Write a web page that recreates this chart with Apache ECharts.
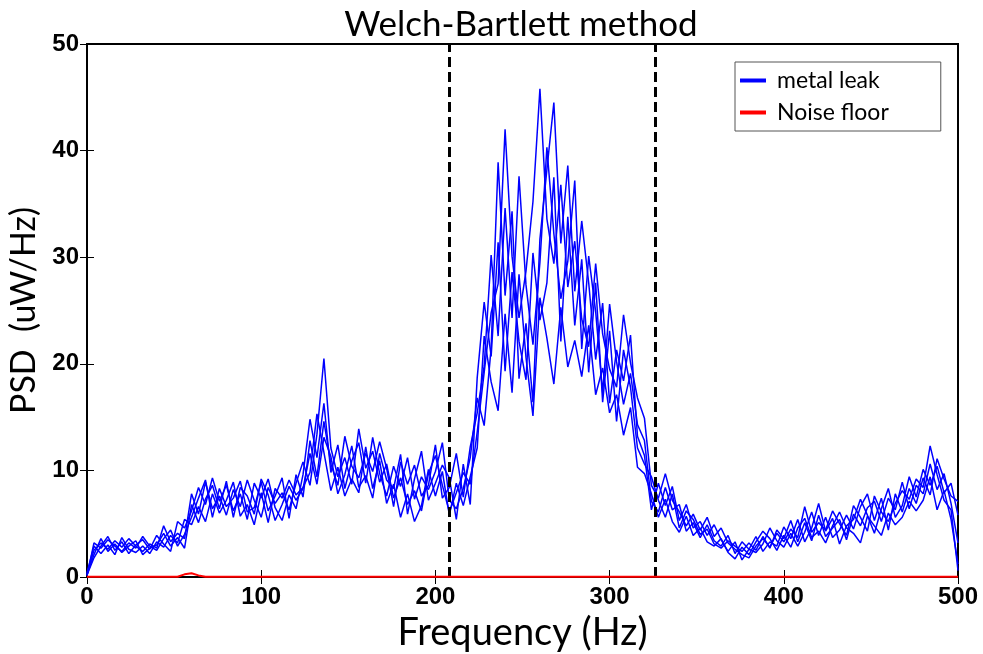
<!DOCTYPE html>
<html lang="en">
<head>
    <meta charset="UTF-8">
    <title>Welch-Bartlett method</title>
    <style>
        html, body { margin: 0; padding: 0; background: #fff; }
    </style>
</head>
<body>
    <div id="app" style="width: 983px;height:654px;"></div>
    <script src="https://cdn.jsdelivr.net/npm/echarts@6/dist/echarts.min.js"></script>
    <script>
        // frequency bins, 4 Hz apart (0 .. 500 Hz)
        const freq = [];
        for (let f = 0; f <= 500; f += 4) freq.push(f);

        const xTicks = [0, 100, 200, 300, 400, 500];
        const yTicks = [0, 10, 20, 30, 40, 50];
        const bandEdges = [208, 326];

        // five PSD estimates of the metal leak, one row per 40 Hz
        const leakA = [
            0.3, 2.5, 3.2, 2.6, 3.4, 2.8, 3.6, 2.9, 2.4, 3.1,
            2.7, 4.8, 3.3, 4.1, 3.6, 7.8, 5.9, 8.9, 6.4, 7.6,
            5.8, 8.2, 6.6, 9.1, 7.2, 5.6, 8.4, 6.9, 7.9, 6.3,
            8.8, 10.8, 8.6, 13.4, 20.5, 12.1, 9.4, 11.2, 8.7, 13.9,
            10.2, 11.8, 8.9, 10.6, 7.4, 9.3, 6.8, 8.1, 6.2, 9.7,
            11.4, 8.6, 6.1, 7.9, 9.8, 8.7, 13.6, 19.2, 24.8, 27.5,
            42.0, 30.1, 24.3, 28.7, 35.2, 45.8, 33.6, 29.4, 36.8, 27.2,
            31.5, 24.2, 21.6, 29.4, 22.8, 19.5, 17.8, 24.6, 20.1, 16.8,
            14.9, 8.6, 7.4, 9.7, 7.2, 6.1, 4.8, 5.9, 4.4, 5.6,
            3.8, 4.6, 3.2, 2.6, 2.1, 1.8, 2.9, 3.6, 2.8, 4.1,
            3.3, 4.5, 3.7, 6.6, 4.2, 5.1, 4.4, 6.2, 5.0, 3.9,
            6.7, 5.6, 4.3, 7.6, 6.1, 5.2, 6.9, 8.1, 7.3, 9.2,
            8.4, 12.3, 9.6, 7.2, 6.3, 0.6
        ];
        const leakB = [
            0.2, 1.8, 2.9, 3.8, 2.5, 3.3, 2.2, 3.0, 3.5, 2.6,
            3.9, 3.1, 2.4, 5.2, 4.6, 6.2, 8.4, 6.8, 9.3, 7.1,
            8.6, 6.2, 7.8, 5.4, 8.8, 7.4, 9.2, 6.5, 5.3, 7.7,
            6.4, 9.6, 14.8, 11.2, 16.3, 9.8, 12.4, 8.3, 10.9, 12.6,
            8.8, 13.1, 9.7, 7.6, 10.4, 8.5, 11.2, 7.3, 9.4, 8.2,
            9.9, 12.6, 7.2, 6.4, 8.3, 11.2, 16.8, 14.2, 21.5, 38.9,
            26.4, 34.3, 18.6, 23.8, 16.4, 31.7, 38.2, 44.5, 31.3, 38.6,
            26.8, 33.4, 27.6, 20.4, 25.7, 16.3, 21.3, 18.4, 22.7, 13.2,
            11.4, 6.3, 8.8, 6.7, 8.5, 5.3, 6.8, 4.6, 5.2, 3.9,
            4.9, 3.5, 2.4, 3.3, 1.6, 2.6, 3.8, 2.4, 3.3, 2.9,
            4.7, 3.6, 5.4, 3.3, 4.6, 6.9, 4.3, 5.5, 3.1, 4.8,
            5.4, 7.3, 5.8, 4.1, 6.4, 8.3, 5.6, 6.7, 9.4, 7.5,
            10.1, 8.6, 10.4, 7.9, 8.8, 5.8
        ];
        const leakC = [
            0.4, 2.9, 2.2, 3.0, 2.1, 3.7, 2.6, 2.3, 2.9, 2.2,
            3.3, 2.8, 3.9, 3.2, 5.4, 4.9, 6.6, 5.2, 7.8, 6.0,
            7.2, 8.9, 5.7, 6.8, 4.9, 7.9, 5.1, 8.3, 7.4, 9.1,
            7.7, 8.4, 9.8, 15.3, 11.7, 8.1, 10.3, 7.6, 9.2, 7.9,
            12.2, 8.3, 10.9, 6.9, 8.7, 5.6, 7.8, 5.2, 6.7, 10.1,
            7.6, 9.9, 5.8, 8.8, 6.7, 9.4, 12.1, 22.6, 18.3, 15.6,
            24.7, 17.3, 28.4, 20.6, 15.1, 26.2, 22.4, 18.1, 25.3, 19.7,
            22.2, 18.8, 23.6, 17.1, 19.6, 15.4, 17.1, 13.3, 15.9, 10.3,
            9.7, 7.8, 5.6, 7.3, 5.2, 4.2, 5.7, 3.9, 4.6, 3.3,
            2.9, 3.6, 2.3, 1.7, 2.8, 2.1, 3.3, 4.3, 3.6, 2.5,
            3.9, 2.8, 4.6, 5.5, 3.7, 4.3, 3.2, 4.8, 6.1, 4.6,
            4.1, 3.2, 5.7, 4.8, 3.9, 6.0, 4.9, 5.6, 7.1, 6.2,
            7.2, 9.4, 6.3, 8.1, 5.4, 1.2
        ];
        const leakD = [
            0.1, 3.2, 2.7, 3.5, 2.9, 2.4, 3.2, 2.7, 3.8, 2.9,
            2.5, 3.6, 4.4, 2.9, 4.0, 5.6, 7.4, 9.1, 5.6, 8.3,
            6.6, 7.4, 9.0, 6.1, 6.5, 8.9, 6.2, 7.6, 9.3, 5.5,
            9.6, 7.5, 12.8, 9.4, 14.6, 10.6, 8.6, 13.2, 10.4, 9.3,
            11.6, 9.9, 12.7, 10.2, 6.6, 10.8, 8.7, 10.5, 7.6, 8.6,
            12.4, 7.4, 8.4, 11.6, 7.5, 12.2, 15.4, 19.8, 30.2, 22.6,
            34.6, 24.3, 37.6, 27.4, 21.8, 29.5, 40.3, 32.2, 26.1, 29.6,
            37.2, 21.4, 30.1, 24.9, 17.3, 25.6, 20.2, 16.2, 19.1, 14.3,
            12.8, 7.1, 6.1, 8.4, 6.3, 6.8, 4.3, 5.1, 3.7, 4.9,
            3.4, 2.9, 3.9, 2.2, 3.3, 2.6, 2.3, 3.1, 4.6, 3.4,
            2.8, 4.1, 2.9, 4.2, 6.1, 3.9, 5.6, 3.7, 4.4, 5.8,
            4.5, 6.6, 7.8, 5.3, 7.4, 4.4, 7.8, 6.1, 8.3, 6.9,
            9.3, 7.7, 11.1, 9.2, 7.6, 7.1
        ];
        const leakE = [
            0.2, 2.1, 3.6, 2.4, 3.1, 2.3, 2.9, 3.4, 2.1, 2.7,
            3.0, 4.1, 2.9, 3.7, 2.7, 6.8, 5.1, 7.3, 8.6, 6.4,
            9.0, 5.6, 8.4, 7.6, 5.9, 9.2, 7.7, 5.3, 6.8, 8.5,
            7.2, 8.3, 11.6, 8.7, 13.1, 11.3, 7.8, 9.6, 12.3, 8.4,
            9.5, 7.4, 11.6, 9.1, 8.3, 11.5, 5.9, 9.2, 11.8, 7.2,
            8.8, 10.5, 9.3, 5.4, 10.6, 6.8, 18.7, 25.8, 20.7, 31.4,
            19.3, 28.6, 22.1, 18.5, 30.4, 24.1, 27.6, 37.5, 22.1, 33.8,
            23.6, 29.8, 19.2, 27.6, 16.4, 23.1, 14.6, 21.3, 17.8, 12.1,
            10.6, 9.4, 7.2, 5.6, 7.8, 4.6, 6.2, 5.4, 4.0, 4.5,
            3.1, 2.7, 3.4, 2.9, 2.4, 3.2, 2.5, 3.8, 2.7, 4.4,
            3.6, 5.3, 3.3, 5.1, 3.4, 5.8, 3.8, 4.6, 5.4, 3.5,
            5.9, 4.8, 6.5, 7.1, 5.2, 7.4, 6.3, 8.9, 6.4, 8.6,
            7.8, 10.6, 8.2, 9.7, 6.9, 3.2
        ];
        const noiseFloor = [
            0.02, 0.02, 0.02, 0.02, 0.02, 0.02, 0.02, 0.02, 0.02, 0.02,
            0.02, 0.02, 0.02, 0.02, 0.25, 0.35, 0.15, 0.02, 0.02, 0.02,
            0.02, 0.02, 0.02, 0.02, 0.02, 0.02, 0.02, 0.02, 0.02, 0.02,
            0.02, 0.02, 0.02, 0.02, 0.02, 0.02, 0.02, 0.02, 0.02, 0.02,
            0.02, 0.02, 0.02, 0.02, 0.02, 0.02, 0.02, 0.02, 0.02, 0.02,
            0.02, 0.02, 0.02, 0.02, 0.02, 0.02, 0.02, 0.02, 0.02, 0.02,
            0.02, 0.02, 0.02, 0.02, 0.02, 0.02, 0.02, 0.02, 0.02, 0.02,
            0.02, 0.02, 0.02, 0.02, 0.02, 0.02, 0.02, 0.02, 0.02, 0.02,
            0.02, 0.02, 0.02, 0.02, 0.02, 0.02, 0.02, 0.02, 0.02, 0.02,
            0.02, 0.02, 0.02, 0.02, 0.02, 0.02, 0.02, 0.02, 0.02, 0.02,
            0.02, 0.02, 0.02, 0.02, 0.02, 0.02, 0.02, 0.02, 0.02, 0.02,
            0.02, 0.02, 0.02, 0.02, 0.02, 0.02, 0.02, 0.02, 0.02, 0.02,
            0.02, 0.02, 0.02, 0.02, 0.02, 0.02
        ];

        const leaks = [leakA, leakB, leakC, leakD, leakE];
        const pairs = vals => freq.map((f, i) => [f, vals[i]]);

        const tickFont = { fontFamily: 'Liberation Sans', fontWeight: 'bold', fontSize: 24, color: '#000' };
        const textFont = 'Lato';

        const series = leaks.map((vals, k) => ({
            name: 'metal leak',
            type: 'line',
            data: pairs(vals),
            symbol: 'none',
            lineStyle: { color: '#0000ff', width: 1.5 },
            itemStyle: { color: '#0000ff' },
            z: 3,
            markLine: k === 0 ? {
                silent: true,
                symbol: 'none',
                label: { show: false },
                lineStyle: { color: '#000', type: [10, 5], width: 3 },
                data: bandEdges.map(x => ({ xAxis: x }))
            } : undefined
        }));
        series.push({
            name: 'Noise floor',
            type: 'line',
            data: pairs(noiseFloor),
            symbol: 'none',
            lineStyle: { color: '#ff0000', width: 2 },
            itemStyle: { color: '#ff0000' },
            z: 5
        });

        const myChart = echarts.init(document.getElementById('app'));
        const options = {
            animation: false,
            backgroundColor: '#fff',
            title: {
                text: 'Welch-Bartlett method',
                left: 516,
                textAlign: 'center',
                top: 2,
                textStyle: { fontFamily: textFont, fontWeight: 'normal', fontSize: 35, color: '#000' }
            },
            legend: {
                orient: 'vertical',
                left: 735,
                top: 62,
                padding: [7, 52, 7, 5],
                itemGap: 9,
                itemWidth: 26,
                itemHeight: 4,
                borderColor: '#555',
                borderWidth: 1,
                backgroundColor: '#fff',
                textStyle: { fontFamily: textFont, fontSize: 23, color: '#000', padding: [0, 0, 0, 6] },
                data: [
                    { name: 'metal leak', icon: 'rect' },
                    { name: 'Noise floor', icon: 'rect' }
                ]
            },
            grid: {
                left: 87, right: 25, top: 44, bottom: 77,
                outerBoundsMode: 'none',
                containLabel: false,
                show: true, borderColor: '#000', borderWidth: 2
            },
            xAxis: [{
                type: 'value', min: 0, max: 500, interval: 100,
                name: 'Frequency (Hz)',
                nameLocation: 'middle',
                nameGap: 37,
                nameTextStyle: { fontFamily: textFont, fontSize: 38, color: '#000' },
                axisLine: { lineStyle: { color: '#000', width: 2 } },
                axisTick: { inside: true, length: 7, lineStyle: { color: '#000' } },
                axisLabel: Object.assign({ margin: 8 }, tickFont),
                splitLine: { show: false }
            }, {
                type: 'value', min: 0, max: 500, interval: 100, position: 'top',
                axisLine: { lineStyle: { color: '#000', width: 2 } },
                axisTick: { inside: true, length: 7, lineStyle: { color: '#000' } },
                axisLabel: { show: false },
                splitLine: { show: false }
            }],
            yAxis: [{
                type: 'value', min: 0, max: 50, interval: 10,
                name: 'PSD  (uW/Hz)',
                nameLocation: 'middle',
                nameGap: 42,
                nameTextStyle: { fontFamily: textFont, fontSize: 34, color: '#000' },
                axisLine: { lineStyle: { color: '#000', width: 2 } },
                axisTick: { inside: true, length: 7, lineStyle: { color: '#000' } },
                axisLabel: Object.assign({ margin: 8 }, tickFont),
                splitLine: { show: false }
            }, {
                type: 'value', min: 0, max: 50, interval: 10, position: 'right',
                axisLine: { lineStyle: { color: '#000', width: 2 } },
                axisTick: { inside: true, length: 7, lineStyle: { color: '#000' } },
                axisLabel: { show: false },
                splitLine: { show: false }
            }],
            series: series
        };
        myChart.setOption(options);
    </script>
</body>
</html>
